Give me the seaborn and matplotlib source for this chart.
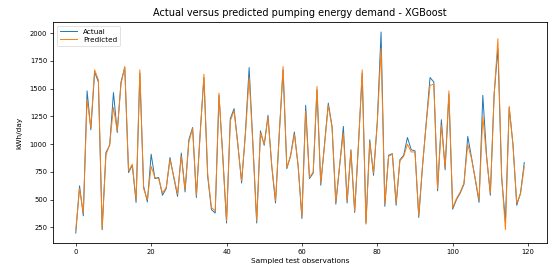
import numpy as np
import pandas as pd
import matplotlib
matplotlib.use("Agg")
import matplotlib.pyplot as plt
import seaborn as sns

title = "Actual versus predicted pumping energy demand - XGBoost"
xlabel = "Sampled test observations"
ylabel = "kWh/day"

actual = [200, 625, 355, 1480, 1130, 1650, 1560, 230, 925, 990,
          1465, 1105, 1560, 1690, 745, 810, 475, 1640, 620, 480,
          910, 690, 700, 540, 600, 880, 700, 530, 920, 570,
          1040, 1150, 520, 1100, 1600, 710, 410, 380, 1440, 900,
          290, 1230, 1320, 1000, 650, 1100, 1690, 1000, 290, 1120,
          990, 1260, 800, 470, 1100, 1670, 780, 900, 1110, 800,
          330, 1350, 690, 740, 1490, 630, 1000, 1370, 1160, 460,
          800, 1160, 470, 950, 385, 1000, 1640, 290, 1040, 720,
          1200, 2010, 440, 900, 915, 450, 860, 900, 1060, 950,
          940, 340, 800, 1200, 1600, 1560, 580, 1220, 770, 1450,
          415, 500, 560, 640, 1070, 880, 680, 476, 1440, 895,
          540, 1450, 1860, 700, 300, 1330, 1000, 450, 560, 835]

predicted = [230, 600, 380, 1400, 1150, 1670, 1580, 240, 900, 1000,
             1330, 1120, 1540, 1700, 760, 820, 500, 1670, 600, 500,
             800, 700, 690, 560, 610, 860, 710, 550, 890, 590,
             1020, 1140, 540, 1080, 1630, 730, 430, 400, 1460, 880,
             310, 1210, 1300, 990, 670, 1080, 1600, 990, 310, 1100,
             1000, 1240, 810, 490, 1090, 1700, 790, 890, 1090, 810,
             350, 1300, 700, 750, 1520, 650, 990, 1350, 1150, 480,
             810, 1100, 490, 940, 400, 990, 1670, 280, 1020, 740,
             1190, 1860, 460, 890, 910, 470, 850, 890, 1000, 930,
             930, 360, 810, 1190, 1530, 1540, 600, 1170, 790, 1480,
             430, 510, 570, 650, 1000, 870, 690, 500, 1250, 880,
             560, 1440, 1950, 710, 230, 1340, 990, 470, 550, 800]

idx = np.arange(len(actual))
df = pd.DataFrame({"obs": idx, "Actual": actual, "Predicted": predicted})

fig = plt.figure(figsize=(5.5, 2.71), dpi=100)
ax = fig.add_axes([0.097, 0.103, 0.897, 0.816])

sns.lineplot(data=df, x="obs", y="Actual", ax=ax, color="#1f77b4",
             linewidth=0.7, label="Actual")
sns.lineplot(data=df, x="obs", y="Predicted", ax=ax, color="#ff7f0e",
             linewidth=0.7, label="Predicted")

ax.set_title(title, fontsize=7, pad=4)
ax.set_xlabel(xlabel, fontsize=5.3, labelpad=2)
ax.set_ylabel(ylabel, fontsize=5.3, labelpad=5)
ax.set_xticks([0, 20, 40, 60, 80, 100, 120])
ax.set_yticks([250, 500, 750, 1000, 1250, 1500, 1750, 2000])
ax.tick_params(labelsize=4.9, length=2.5, width=0.5, pad=2)
for s in ax.spines.values():
    s.set_linewidth(0.6)
leg = ax.legend(loc="upper left", fontsize=5.2, frameon=True,
                handlelength=2.4, borderpad=0.4, labelspacing=0.3)
leg.get_frame().set_linewidth(0.5)

fig.savefig("out.png", dpi=100)
